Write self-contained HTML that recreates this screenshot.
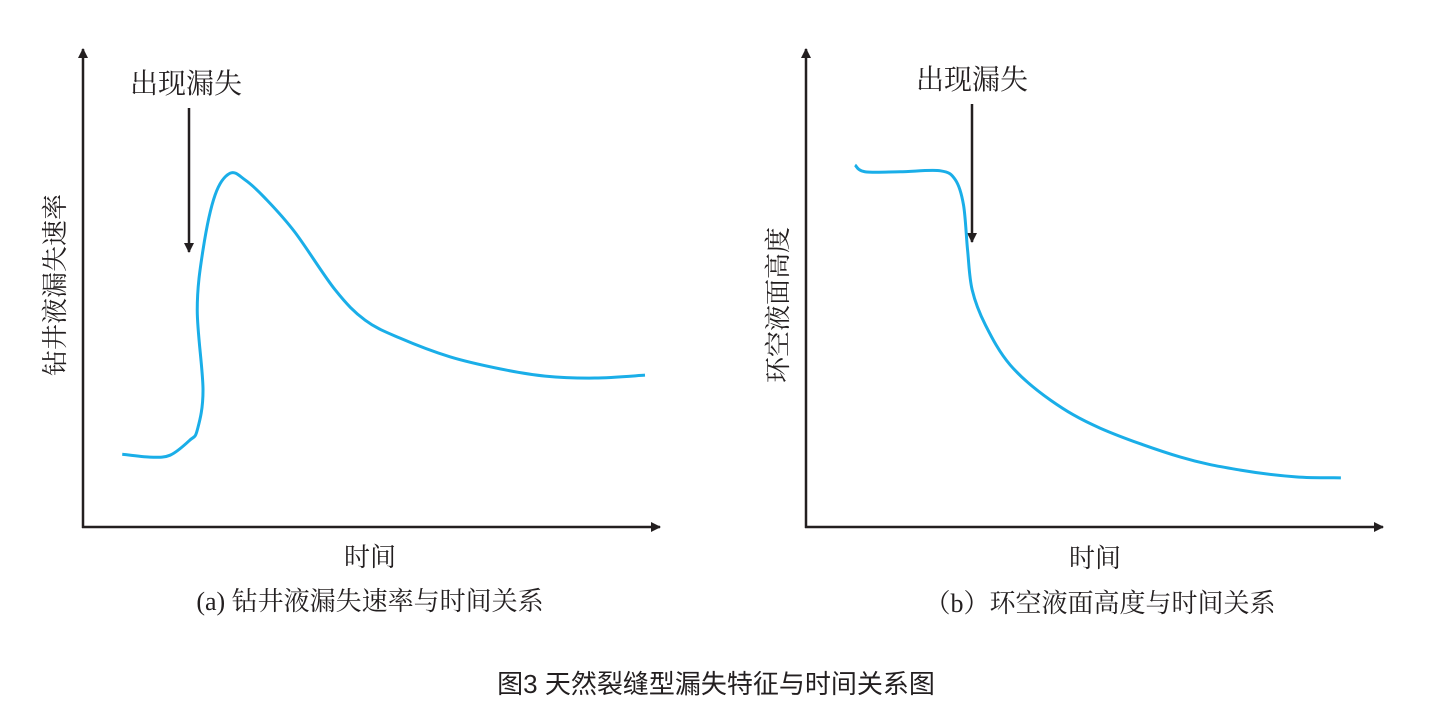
<!DOCTYPE html>
<html><head><meta charset="utf-8">
<style>
html,body{margin:0;padding:0;background:#fff;}
body{width:1433px;height:719px;overflow:hidden;}
svg text{font-family:"Liberation Serif","Noto Serif CJK SC",serif;fill:#231f20;}
.sans{font-family:"Liberation Sans","Noto Sans CJK SC",sans-serif !important;}
</style></head>
<body>
<svg id="fig" width="1433" height="719" viewBox="0 0 1433 719">
  <defs>
    <marker id="ah" viewBox="0 0 10 10" refX="9" refY="5" markerWidth="10" markerHeight="10" markerUnits="userSpaceOnUse" orient="auto">
      <path d="M0,0 L10,5 L0,10 Z" fill="#231f20"/>
    </marker>
  </defs>
  <g>
    <line x1="83" y1="528" x2="83" y2="49" stroke="#231f20" stroke-width="2.5" marker-end="url(#ah)"/>
    <line x1="82" y1="527" x2="660" y2="527" stroke="#231f20" stroke-width="2.5" marker-end="url(#ah)"/>
    <text transform="translate(64,285) rotate(-90)" text-anchor="middle" font-size="26">钻井液漏失速率</text>
    <text x="186" y="93" text-anchor="middle" font-size="28">出现漏失</text>
    <line x1="189" y1="108" x2="189" y2="252" stroke="#231f20" stroke-width="2.5" marker-end="url(#ah)"/>
    <path id="curveA" fill="none" stroke="#1aaee8" stroke-width="3"/>
    <text x="370" y="566" text-anchor="middle" font-size="26">时间</text>
    <text x="370" y="610" text-anchor="middle" font-size="26">(a) 钻井液漏失速率与时间关系</text>
  </g>
  <g>
    <line x1="806" y1="528" x2="806" y2="49" stroke="#231f20" stroke-width="2.5" marker-end="url(#ah)"/>
    <line x1="805" y1="527" x2="1383" y2="527" stroke="#231f20" stroke-width="2.5" marker-end="url(#ah)"/>
    <text transform="translate(787,305) rotate(-90)" text-anchor="middle" font-size="26">环空液面高度</text>
    <text x="972" y="89" text-anchor="middle" font-size="28">出现漏失</text>
    <line x1="972" y1="104" x2="972" y2="242" stroke="#231f20" stroke-width="2.5" marker-end="url(#ah)"/>
    <path id="curveB" fill="none" stroke="#1aaee8" stroke-width="3"/>
    <text x="1095" y="567" text-anchor="middle" font-size="26">时间</text>
    <text x="1100" y="612" text-anchor="middle" font-size="26">（b）环空液面高度与时间关系</text>
  </g>
  <text class="sans" x="716" y="693" text-anchor="middle" font-size="26">图3  天然裂缝型漏失特征与时间关系图</text>
</svg>
<script>
// Chart (a): drilling fluid loss rate vs time (time 0-100, value 0-100)
const timeA = [6.8,11.6,15.1,18.5,19.8,20.8,19.8,20.8,22.9,25.5,28.1,31.5,36.7,43.7,48.9,54.9,63.6,72.3,80.1,88.7,97.4];
const rateA = [15.1,14.5,14.9,18.0,20.1,28.4,45.0,57.5,68.9,73.4,72.0,68.3,61.2,49.2,42.9,39.2,35.3,32.8,31.3,30.9,31.5];
// Chart (b): annulus fluid level vs time
const timeB = [8.5,10.2,16.3,23.3,25.9,27.3,28.0,28.8,31.1,35.4,42.4,51.0,64.9,75.3,84.9,92.7];
const levelB = [75.1,73.7,73.7,73.9,72.0,66.8,57.5,49.2,41.9,33.6,26.3,20.5,14.5,11.8,10.4,10.2];

function makeX(x0){ return t => x0 + t*5.77; }
function yScale(v){ return 527 - v*4.82; }
function smoothPath(xs, ys, sx){
  const p = xs.map((t,i)=>[sx(t), yScale(ys[i])]);
  let d = `M${p[0][0]},${p[0][1]}`;
  for(let i=0;i<p.length-1;i++){
    const p0=p[Math.max(i-1,0)], p1=p[i], p2=p[i+1], p3=p[Math.min(i+2,p.length-1)];
    const c1=[p1[0]+(p2[0]-p0[0])/6, p1[1]+(p2[1]-p0[1])/6];
    const c2=[p2[0]-(p3[0]-p1[0])/6, p2[1]-(p3[1]-p1[1])/6];
    d += ` C${c1[0]},${c1[1]} ${c2[0]},${c2[1]} ${p2[0]},${p2[1]}`;
  }
  return d;
}
document.getElementById('curveA').setAttribute('d', smoothPath(timeA, rateA, makeX(83)));
document.getElementById('curveB').setAttribute('d', smoothPath(timeB, levelB, makeX(806)));
</script>
</body></html>
